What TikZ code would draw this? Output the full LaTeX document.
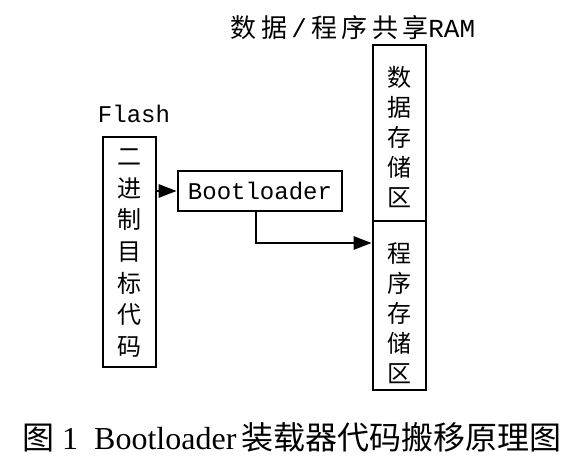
\documentclass[tikz,border=0pt]{standalone}
\usepackage{fontspec}
\setmainfont{Liberation Serif}
\newfontfamily\cjk{Noto Sans CJK SC}
\newfontfamily\mono{Liberation Mono}
\usetikzlibrary{arrows.meta}
\tikzset{
  box/.style={draw, line width=2.6pt, inner sep=0pt, minimum width=53pt},
  vtext/.style={align=center},
  arr/.style={line width=2.6pt, -{Triangle[length=18pt,width=13pt]}},
}
\begin{document}
\begin{tikzpicture}[x=1pt,y=-1pt]
\useasboundingbox (0,0) rectangle (582,470);
% Flash
\node[box, minimum height=230pt] (flash) at (129.5,252) {};
\node[vtext, font=\cjk\fontsize{24}{31.7}\selectfont] (flasht) at (129.5,253) {二\\进\\制\\目\\标\\代\\码};
\node[font=\mono\fontsize{24}{24}\selectfont] (flashl) at (134,114) {Flash};
% Bootloader
\node[box, minimum width=164pt, minimum height=40pt, font=\mono\fontsize{24}{24}\selectfont] (boot) at (260,191) {Bootloader};
% RAM
\node[box, minimum height=176pt] (ramdata) at (399.5,133) {};
\node[box, minimum height=169pt] (ramprog) at (399.5,305.5) {};
\node[vtext, font=\cjk\fontsize{24}{30}\selectfont] (ramdatat) at (399.5,137) {数\\据\\存\\储\\区};
\node[vtext, font=\cjk\fontsize{24}{30}\selectfont] (ramprogt) at (399.5,313) {程\\序\\存\\储\\区};
\node[font=\fontsize{26}{26}\selectfont] (raml) at (353,28) {\cjk 数\,据\,{\mono/}\,程\,序\,共\,享{\mono RAM}};
% connectors
\coordinate (bend) at (256,243);
\draw[arr] (flash.east |- boot.west) -- (boot.west);
\draw[arr] (boot.south -| bend) -- (bend) -- (ramprog.west |- bend);
% caption
\node[font=\fontsize{32}{32}\selectfont] (cap) at (292,437) {{\cjk 图}~1~~Bootloader\,{\cjk 装载器代码搬移原理图}};
\end{tikzpicture}
\end{document}
